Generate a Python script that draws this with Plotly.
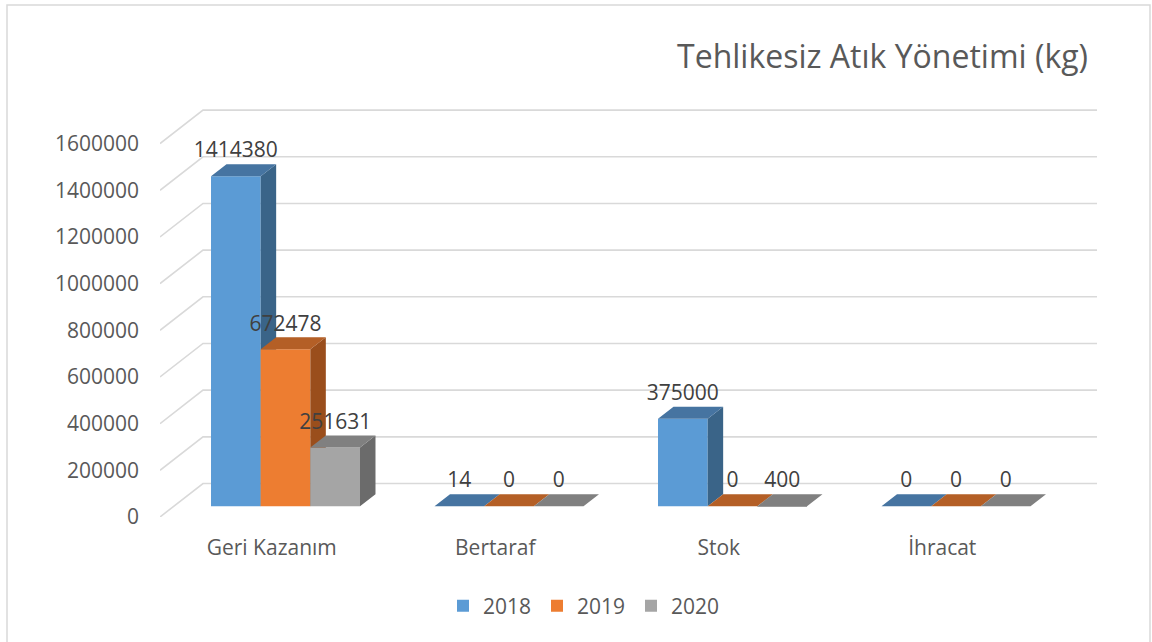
import plotly.graph_objects as go

# ---------------- data ----------------
categories = ["Geri Kazanım", "Bertaraf", "Stok", "İhracat"]
years = ["2018", "2019", "2020"]
values_2018 = [1414380, 14, 375000, 0]
values_2019 = [672478, 0, 0, 0]
values_2020 = [251631, 0, 400, 0]
series_values = [values_2018, values_2019, values_2020]
y_ticks = [0, 200000, 400000, 600000, 800000, 1000000, 1200000, 1400000, 1600000]
chart_title = "Tehlikesiz Atık Yönetimi (kg)"

# ---------------- style ----------------
front_colors = ["#5B9BD5", "#ED7D31", "#A5A5A5"]
top_colors = ["#4674A1", "#B45F26", "#808080"]
side_colors = ["#3A6488", "#9A4E1C", "#6B6B6B"]
grid_color = "#D9D9D9"
axis_text = "#595959"
label_text = "#404040"
FONT = "Open Sans"

W, H = 1152, 642
M_L, M_R, M_T, M_B = 160, 55, 100, 125
plot_w = W - M_L - M_R
plot_h = H - M_T - M_B

Y_MAX = y_ticks[-1]
WALL_PX = 373.4            # pixel height of the value wall
CAT_PX = 223.5             # pixel width of one category slot
px_per_val = WALL_PX / Y_MAX
DEPTH_DX_PX, DEPTH_DY_PX = 43.0, 33.5
DX = DEPTH_DX_PX / CAT_PX          # depth shift in category units
DY = DEPTH_DY_PX / px_per_val      # depth shift in value units
Z1, Z2 = 0.32, 0.68                # bar front/back depth fractions
GAP = 1.5
bw = 1.0 / (len(years) + GAP)
LABEL_OFF = 12 / px_per_val

x_range = [0, plot_w / CAT_PX]
y_range = [0, plot_h / px_per_val]

fig = go.Figure()

# ---------------- back wall gridlines ----------------
gx, gy = [], []
ncat = len(categories)
for t in y_ticks:
    gx += [0, DX, ncat + DX, None]
    gy += [t, t + DY, t + DY, None]
fig.add_trace(go.Scatter(x=gx, y=gy, mode="lines",
                         line=dict(color=grid_color, width=1.6),
                         hoverinfo="skip", showlegend=False, zorder=-1,
                         cliponaxis=False))

# ---------------- bars ----------------
for j, (name, vals) in enumerate(zip(years, series_values)):
    tx, ty, sx, sy = [], [], [], []
    centers = []
    for i, v in enumerate(vals):
        xl = i + GAP * bw / 2 + j * bw
        xr = xl + bw
        f_dx, b_dx = Z1 * DX, Z2 * DX
        f_dy, b_dy = Z1 * DY, Z2 * DY
        centers.append(xl + bw / 2 + f_dx)
        # top face
        tx += [xl + f_dx, xr + f_dx, xr + b_dx, xl + b_dx, xl + f_dx, None]
        ty += [f_dy + v, f_dy + v, b_dy + v, b_dy + v, f_dy + v, None]
        # side face
        sx += [xr + f_dx, xr + b_dx, xr + b_dx, xr + f_dx, xr + f_dx, None]
        sy += [f_dy, b_dy, b_dy + v, f_dy + v, f_dy, None]
    fig.add_trace(go.Scatter(x=sx, y=sy, mode="lines", fill="toself",
                             fillcolor=side_colors[j], line=dict(width=0),
                             hoverinfo="skip", showlegend=False, zorder=j))
    fig.add_trace(go.Scatter(x=tx, y=ty, mode="lines", fill="toself",
                             fillcolor=top_colors[j], line=dict(width=0),
                             hoverinfo="skip", showlegend=False, zorder=j))
    fig.add_trace(go.Bar(x=centers, y=vals, base=[Z1 * DY] * len(vals),
                         width=bw, name=name,
                         marker=dict(color=front_colors[j], line=dict(width=0)),
                         hoverinfo="skip", zorder=j))
    fig.add_trace(go.Scatter(x=centers,
                             y=[v + Z2 * DY + LABEL_OFF for v in vals],
                             mode="text", text=[str(v) for v in vals],
                             textposition="middle center",
                             textfont=dict(family=FONT, size=21, color=label_text),
                             hoverinfo="skip", showlegend=False, zorder=10,
                             cliponaxis=False))

fig.update_layout(
    width=W, height=H, autosize=False,
    margin=dict(l=M_L, r=M_R, t=M_T, b=M_B),
    paper_bgcolor="white", plot_bgcolor="white",
    barmode="overlay",
    font=dict(family=FONT, color=axis_text),
    title=dict(text=chart_title, xref="container", yref="container",
               x=1088 / W, xanchor="right", y=1 - 57 / H, yanchor="middle",
               font=dict(family=FONT, size=32, color=axis_text)),
    legend=dict(orientation="h", xref="container", yref="container",
                x=443 / W, xanchor="left", y=1 - 606 / H, yanchor="middle",
                font=dict(family=FONT, size=21, color=axis_text),
                itemwidth=30, entrywidth=49, entrywidthmode="pixels",
                traceorder="normal"),
    xaxis=dict(range=x_range, tickvals=[i + 0.5 for i in range(ncat)],
               ticktext=categories, showgrid=False, zeroline=False,
               showline=False, ticks="", ticklabelstandoff=16,
               tickfont=dict(family=FONT, size=21, color=axis_text),
               fixedrange=True),
    yaxis=dict(range=y_range, tickvals=y_ticks, tickformat="d",
               showgrid=False, zeroline=False, showline=False, ticks="",
               ticklabelstandoff=20,
               tickfont=dict(family=FONT, size=21, color=axis_text),
               fixedrange=True),
    shapes=[dict(type="rect", xref="paper", yref="paper",
                 x0=(7 - M_L) / plot_w, x1=(1150 - M_L) / plot_w,
                 y0=(H - M_B - 660) / plot_h, y1=(H - M_B - 5) / plot_h,
                 line=dict(color=grid_color, width=1.5), layer="below")],
)

fig.write_html("out.html", config={"displayModeBar": False},
               post_script="document.body.style.margin='0';")
